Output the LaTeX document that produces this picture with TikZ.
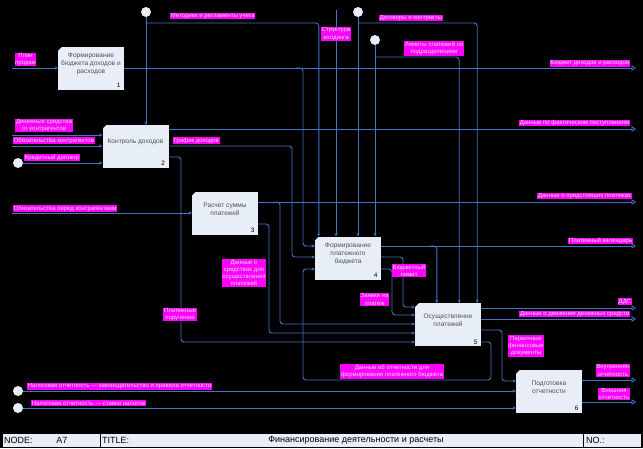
\documentclass[tikz,border=0pt]{standalone}
\usepackage{fontspec}
\setmainfont{Liberation Sans}
\usetikzlibrary{arrows.meta,calc}
\definecolor{lblue}{HTML}{4472C4}
\definecolor{boxfill}{HTML}{E8EEF8}
\definecolor{lbl}{HTML}{FF00FF}
\definecolor{lbltext}{HTML}{E6E6E6}
\definecolor{boxtext}{HTML}{505050}
\begin{document}
\begin{tikzpicture}[x=1pt,y=-1pt,
 box/.style={draw=none,fill=boxfill,minimum width=66pt,minimum height=43pt,inner sep=0pt},
 btext/.style={font=\fontsize{6.6}{8}\selectfont,text=boxtext,align=center,inner sep=0pt},
 bnum/.style={font=\fontsize{6.4}{7}\selectfont,text=black,inner sep=0pt},
 lab/.style={fill=lbl,text=lbltext,font=\fontsize{6}{7.3}\selectfont,align=center,inner sep=0.6pt},
 flow/.style={draw=lblue,line width=0.9pt,rounded corners=3pt},
 inarr/.style={flow,-{Stealth[length=3.2pt,width=3.2pt]}},
 outarr/.style={flow,-{Triangle[open,length=4.5pt,width=5.5pt,line width=0.8pt]}},
 tun/.style={circle,fill=boxfill,minimum size=10pt,inner sep=0pt},
 foot/.style={fill=boxfill,draw=black,line width=0.7pt},
 ftext/.style={font=\fontsize{9}{10}\selectfont,text=black,inner sep=0pt},
]
\fill[black] (0,0) rectangle (643,448);

% boxes
\node[box] (b1) at (91,68.5) {};
\node[box] (b2) at (135.5,146.5) {};
\node[box] (b3) at (225,213.3) {};
\node[box] (b4) at (348,258) {};
\node[box] (b5) at (448,324.7) {};
\node[box] (b6) at (549,391.5) {};
\foreach \b in {b1,b2,b3,b4,b5,b6}{
  \fill[black] (\b.north west) -- ++(4,0) -- ++(-4,4) -- cycle;
}
\node[btext] (t1) at (91,64) {Формирование\\бюджета доходов и\\расходов};
\node[btext] (t2) at (135.5,142) {Контроль доходов};
\node[btext] (t3) at (225,209) {Расчет суммы\\платежей};
\node[btext] (t4) at (348,254) {Формирование\\платежного\\бюджета};
\node[btext] (t5) at (448,320.5) {Осуществление\\платежей};
\node[btext] (t6) at (549,387.5) {Подготовка\\отчетности};
\node[bnum] (n1) at ($(b1.south east)+(-5.5,-4.5)$) {1};
\node[bnum] (n2) at ($(b2.south east)+(-5.5,-4.5)$) {2};
\node[bnum] (n3) at ($(b3.south east)+(-5.5,-4.5)$) {3};
\node[bnum] (n4) at ($(b4.south east)+(-5.5,-4.5)$) {4};
\node[bnum] (n5) at ($(b5.south east)+(-5.5,-4.5)$) {5};
\node[bnum] (n6) at ($(b6.south east)+(-5.5,-4.5)$) {6};

% tunnel circles and free ends
\node[tun] (c1) at (146,12) {};
\node[tun] (c2) at (358,12) {};
\node[tun] (c3) at (375,40) {};
\node[tun] (c4) at (18,163) {};
\node[tun] (c5) at (18,391) {};
\node[tun] (c6) at (18,408) {};
\coordinate (s0) at (336,10);
\coordinate (inPlan) at (12,68);
\coordinate (inDen) at (12,135);
\coordinate (inObz) at (12,146);
\coordinate (inObp) at (12,213);
\coordinate (oBdr) at (636,68);
\coordinate (oFakt) at (636,129);
\coordinate (oPred) at (636,202);
\coordinate (oKal) at (636,246);
\coordinate (oDds) at (636,308);
\coordinate (oDv) at (636,319);
\coordinate (oVnu) at (636,380);
\coordinate (oVne) at (636,402);

% box 1
\draw[inarr] (inPlan) -- (b1.west |- inPlan);
\draw[outarr] (b1.east |- oBdr) -- (oBdr);
\draw[inarr] (296,68) -| (303,246) -- (b4.west |- 0,246);

% controls from top
\draw[inarr] (c1) -- (c1 |- b2.north);
\draw[inarr] (146,23) -| ($(b4.north west)+(4,0)$);
\draw[inarr] (s0) -- (s0 |- b4.north);
\draw[inarr] (c2) -- (c2 |- b4.north);
\draw[inarr] (358,23) -| ($(b5.north east)+(-4,0)$);
\draw[inarr] (c3) -- (c3 |- b4.north);
\draw[inarr] (375,57) -| ($(b5.north east)+(-22,0)$);

% box 2
\draw[inarr] (inDen) -- (b2.west |- inDen);
\draw[inarr] (inObz) -- (b2.west |- inObz);
\draw[inarr] (c4) -- (b2.west |- c4);
\draw[outarr] (b2.east |- oFakt) -- (oFakt);
\draw[inarr] (b2.east |- 0,146) -- (292,146) -- (292,257) -- (b4.west |- 0,257);
\draw[inarr] (b2.east |- 0,157) -| (181,342) -- (b5.west |- 0,342);

% box 3
\draw[inarr] (inObp) -- (b3.west |- inObp);
\draw[outarr] (b3.east |- oPred) -- (oPred);
\draw[inarr] (276,202) -| (280,324) -- (b5.west |- 0,324);
\draw[inarr] (b3.east |- 0,224) -| (269,333) -- (b5.west |- 0,333);

% box 4
\draw[outarr] (b4.east |- oKal) -- (oKal);
\draw[inarr] (430,246) -| ($(b5.north west)+(22,0)$);
\draw[inarr] (b4.east |- 0,257) -| (403,307) -- (b5.west |- 0,307);
\draw[inarr] (b4.east |- 0,269) -| (392,315) -- (b5.west |- 0,315);

% box 5
\draw[outarr] (b5.east |- oDds) -- (oDds);
\draw[outarr] (b5.east |- oDv) -- (oDv);
\draw[inarr] (b5.east |- 0,330) -| (502,381) -- (b6.west |- 0,381);
\draw[inarr] (b5.east |- 0,342) -- (491,342) -- (491,380) -- (303,380) -- (303,269) -- (b4.west |- 0,269);

% box 6
\draw[inarr] (c5) -- (b6.west |- c5);
\draw[inarr] (c6) -- (b6.west |- c6);
\draw[outarr] (b6.east |- oVnu) -- (oVnu);
\draw[outarr] (b6.east |- oVne) -- (oVne);

% labels
\node[lab] (lPlan) at (25.5,59.5) {План\\продаж};
\node[lab,anchor=west] (lMet) at (170,16) {Методики и регламенты учета};
\node[lab] (lStr) at (336,34) {Структура\\холдинга};
\node[lab,anchor=west] (lDog) at (379,18) {Договоры и контракты};
\node[lab] (lLim) at (434,48.5) {Лимиты платежей по\\подразделениям};
\node[lab,anchor=east] (lBdr) at (630,63.5) {Бюджет доходов и расходов};
\node[lab] (lDen) at (44,125.5) {Денежные средства\\от контрагентов};
\node[lab,anchor=west] (lObz) at (13,140.5) {Обязательства контрагентов};
\node[lab,anchor=west] (lKred) at (24,157.5) {Кредитный договор};
\node[lab,anchor=west] (lObp) at (13,208.5) {Обязательства перед контрагентами};
\node[lab,anchor=west] (lGraf) at (173,140.5) {График доходов};
\node[lab,anchor=east] (lFakt) at (630,123) {Данные по фактическим поступлениям};
\node[lab,anchor=east] (lPred) at (632,196) {Данные о предстоящих платежах};
\node[lab,anchor=east] (lKal) at (633,241) {Платежный календарь};
\node[lab] (lSr) at (244,273) {Данные о\\средствах для\\осуществления\\платежей};
\node[lab] (lPor) at (180,314.5) {Платежные\\поручения};
\node[lab] (lBl) at (409,270.5) {Бюджетный\\лимит};
\node[lab] (lZay) at (374.5,299.5) {Заявки на\\платеж};
\node[lab,anchor=east] (lDds) at (632,301.5) {ДДС};
\node[lab,anchor=east] (lDv) at (630,314) {Данные о движении денежных средств};
\node[lab] (lPerv) at (526,346) {Первичные\\финансовые\\документы};
\node[lab] (lOtch) at (392,371.5) {Данные об отчетности для\\формирования платежного бюджета};
\node[lab,anchor=east] (lVnu) at (630,370.5) {Внутренняя\\отчетность};
\node[lab,anchor=east] (lVne) at (630,394) {Внешняя\\отчетность};
\node[lab,anchor=west] (lN1) at (27,386.5) {Налоговая отчетность — законодательство и правила отчетности};
\node[lab,anchor=west] (lN2) at (31,403) {Налоговая отчетность — ставки налогов};

% footer
\draw[foot] (2,433) rectangle (100,447);
\draw[foot] (100,433) rectangle (583,447);
\draw[foot] (583,433) rectangle (641,447);
\node[ftext,anchor=west] (fNode) at (4,440) {NODE:};
\node[ftext] (fA) at (62,440) {A7};
\node[ftext,anchor=west] (fTit) at (102,440) {TITLE:};
\node[ftext] (fT) at (356,440) {Финансирование деятельности и расчеты};
\node[ftext,anchor=west] (fNo) at (586,440) {NO.:};
\end{tikzpicture}
\end{document}
